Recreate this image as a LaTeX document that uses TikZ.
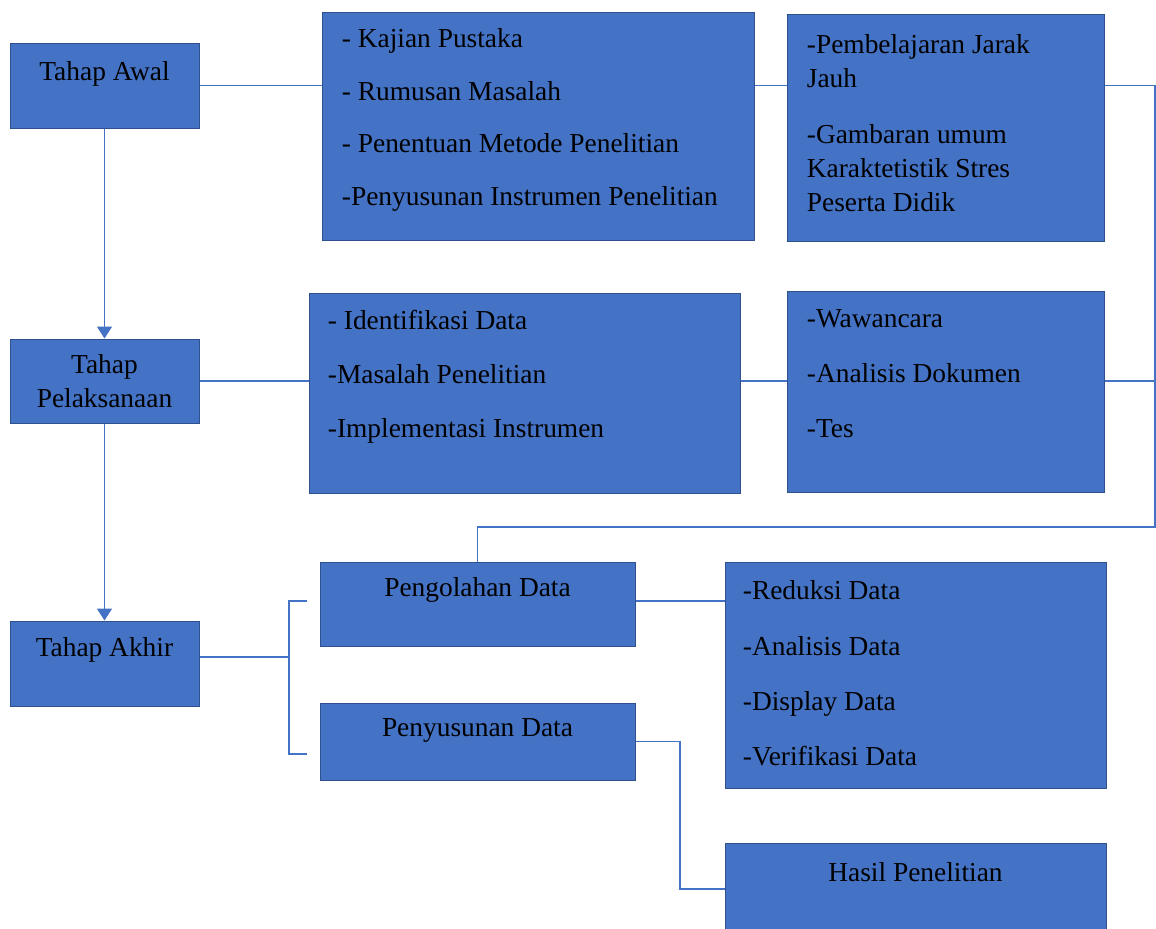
\documentclass[tikz,border=0pt]{standalone}
\usepackage{fontspec}
\setmainfont{Liberation Serif}
\usepackage{tikz}
\usetikzlibrary{positioning, fit, calc, arrows.meta}
\definecolor{isian}{HTML}{4472C4}
\definecolor{tepi}{HTML}{2F528F}

\begin{document}
\begin{tikzpicture}[x=0.5pt, y=-0.5pt, >={Triangle[width=7.5pt,length=6pt]},
    kotak/.style={draw=tepi, fill=isian, line width=0.5pt, inner sep=0pt},
    teks/.style={inner sep=0pt, align=left, font=\fontsize{13.7}{17}\selectfont},
    garis/.style={draw=isian, line width=0.8pt}]
  \useasboundingbox (0,0) rectangle (1156,928);

  % tahap (kiri)
  \node[kotak, fit={(10,43) (199,128)}] (awal) {};
  \node[kotak, fit={(10,339) (199,423)}] (pelaks) {};
  \node[kotak, fit={(10,621) (199,706)}] (akhir) {};
  \node[teks] [below=9.5pt of awal.north] {Tahap Awal};
  \node[teks, align=center] [below=8pt of pelaks.north] {Tahap\\Pelaksanaan};
  \node[teks] [below=8.5pt of akhir.north] {Tahap Akhir};

  % rincian
  \node[kotak, fit={(322,12) (754,240)}] (kajian) {};
  \node[kotak, fit={(787,14) (1104,241)}] (belajar) {};
  \node[kotak, fit={(309,293) (740,493)}] (ident) {};
  \node[kotak, fit={(787,291) (1104,492)}] (wawan) {};
  \node[kotak, fit={(320,562) (635,646)}] (olah) {};
  \node[kotak, fit={(320,703) (635,780)}] (susun) {};
  \node[kotak, fit={(725,562) (1106,788)}] (reduksi) {};
  \node[kotak, fit={(725,843) (1106,935)}] (hasil) {};

  \node[teks, below right=8.5pt and 10pt of kajian.north west]
    {- Kajian Pustaka\\[9.2pt] - Rumusan Masalah\\[9.2pt]
     - Penentuan Metode Penelitian\\[9.2pt] -Penyusunan Instrumen Penelitian};
  \node[teks, below right=10.5pt and 10pt of belajar.north west]
    {-Pembelajaran Jarak\\Jauh\\[11pt] -Gambaran umum\\Karaktetistik Stres\\Peserta Didik};
  \node[teks, below right=8.5pt and 9.5pt of ident.north west]
    {- Identifikasi Data\\[10pt] -Masalah Penelitian\\[10pt] -Implementasi Instrumen};
  \node[teks, below right=9.5pt and 10pt of wawan.north west]
    {-Wawancara\\[10.5pt] -Analisis Dokumen\\[10.5pt] -Tes};
  \node[teks] [below=8pt of olah.north] {Pengolahan Data};
  \node[teks] [below=8pt of susun.north] {Penyusunan Data};
  \node[teks, below right=9.5pt and 9pt of reduksi.north west]
    {-Reduksi Data\\[10.6pt] -Analisis Data\\[10.6pt] -Display Data\\[10.6pt] -Verifikasi Data};
  \node[teks] [below=10pt of hasil.north] {Hasil Penelitian};

  % titik bantu
  \coordinate (sudut) at (1155,527);
  \coordinate (cabang) at (289,657);
  \coordinate (kurungatas) at (307,601);
  \coordinate (kurungbawah) at (307,754);

  % garis
  \draw[garis, ->] (awal) -- (pelaks);
  \draw[garis, ->] (pelaks) -- (akhir);
  \draw[garis] (awal.east) -- (awal.east -| kajian.west);
  \draw[garis] (awal.east -| kajian.east) -- (awal.east -| belajar.west);
  \draw[garis] (awal.east -| belajar.east) -| (sudut) -| (olah.north);
  \draw[garis] (pelaks.east) -- (pelaks.east -| ident.west);
  \draw[garis] (pelaks.east -| ident.east) -- (pelaks.east -| wawan.west);
  \draw[garis] (pelaks.east -| wawan.east) -- (pelaks.east -| sudut);
  \draw[garis] (akhir.east |- cabang) -- (cabang);
  \draw[garis] (kurungatas) -| (cabang) |- (kurungbawah);
  \draw[garis] (olah.east |- kurungatas) -- (kurungatas -| reduksi.west);
  \draw[garis] (susun.east) -| ($(susun.east)!.5!(hasil.west)$) |- (hasil.west);
\end{tikzpicture}
\end{document}
